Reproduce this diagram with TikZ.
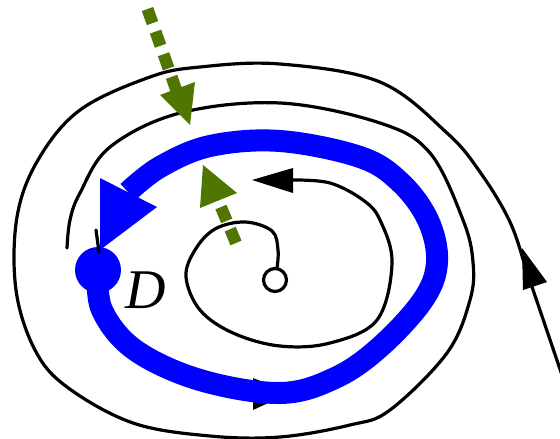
\documentclass[tikz,border=0pt]{standalone}
\usepackage{fontspec}
\setmainfont{Liberation Serif}
\begin{document}
\begin{tikzpicture}[x=1pt,y=-1pt,
  blk/.style={line width=3.2pt, black, line cap=round},
  bluecyc/.style={line width=22pt, blue},
  grn/.style={line width=12pt, draw=gcol, dash pattern=on 15pt off 9pt},
  tri/.style={fill=#1, draw=none}]
\definecolor{gcol}{RGB}{78,118,0}
\useasboundingbox (0,0) rectangle (560,439);
% outer trajectory
\draw[blk] plot[smooth, tension=0.6] coordinates {(563,378) (545,325) (528,275) (510,222) (480,172) (447,133) (380,82) (280,64) (200,67) (150,77) (80,110) (38,160) (17,217) (16,290) (35,350) (67,387) (133,423) (210,436) (280,437) (350,425) (390,410) (447,353) (470,300) (473,262) (463,220) (430,153) (380,123) (280,103) (180,113) (110,147) (80,193) (70,220) (67,248)};
\fill[tri=black] (522,248) -- (523,290) -- (547,282) -- cycle;
% inner trajectory
\draw[blk] plot[smooth, tension=0.6] coordinates {(277,268) (278,250) (272,231) (245,222) (215,229) (195,250) (186,277) (200,310) (233,333) (280,346) (330,343) (377,320) (392,263) (380,220) (363,200) (330,183) (293,180)};
\fill[tri=black] (252,180) -- (293,168) -- (293,193) -- cycle;
% arrow under limit cycle
\fill[tri=black] (290,393) -- (253,378) -- (253,410) -- cycle;
% limit cycle
\draw[bluecyc] plot[smooth, tension=0.6] coordinates {(98,270) (102,310) (135,350) (200,380) (280,393) (335,378) (380,347) (423,300) (437,262) (428,220) (400,182) (360,157) (280,141) (210,146) (160,167) (128,192)};
\fill[tri=blue] (100,250) -- (100,178) -- (157,207) -- cycle;
\fill[blue] (98,270) circle (23);
\draw[blk] (96,230) -- (99,252);
% unstable focus
\draw[line width=3.2pt, fill=white] (275,280) circle (11.5);
\node[anchor=base, font=\fontsize{56}{56}\selectfont\itshape] at (146,308) {D};
% green dashed arrows
\draw[grn] (147.5,9) -- (178,95);
\fill[tri=gcol] (190,125) -- (160,95) -- (195,82) -- cycle;
\draw[grn] (236,243) -- (218,200);
\fill[tri=gcol] (203,165) -- (200,208) -- (237,193) -- cycle;
\end{tikzpicture}
\end{document}
